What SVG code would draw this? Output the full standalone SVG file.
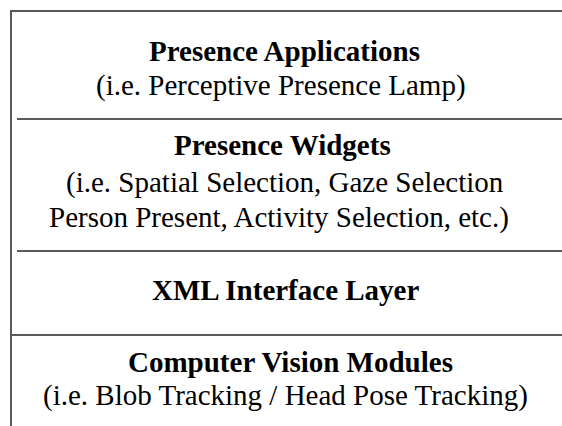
<svg xmlns="http://www.w3.org/2000/svg" width="562" height="426" viewBox="0 0 562 426">
<style>
.ln{stroke:#5a5a5a;stroke-width:2;fill:none}
.t{font-family:"Liberation Serif","Times New Roman",serif;font-size:29px;fill:#000}
.b{font-weight:bold}
</style>
<rect width="562" height="426" fill="#fff"/>
<g id="frame">
<line class="ln" x1="10" y1="11" x2="562" y2="11"/>
<line class="ln" x1="11" y1="10" x2="11" y2="426"/>
<line class="ln" x1="17" y1="119" x2="562" y2="119"/>
<line class="ln" x1="17" y1="251" x2="562" y2="251"/>
<line class="ln" x1="10" y1="335" x2="562" y2="335"/>
</g>
<g id="presence-applications">
<text class="t b" x="149" y="61">Presence Applications</text>
<text class="t" x="96" y="95">(i.e. Perceptive Presence Lamp)</text>
</g>
<g id="presence-widgets">
<text class="t b" x="174" y="155">Presence Widgets</text>
<text class="t" x="66" y="192">(i.e. Spatial Selection, Gaze Selection</text>
<text class="t" x="49" y="227">Person Present, Activity Selection, etc.)</text>
</g>
<g id="xml-interface-layer">
<text class="t b" x="152" y="300">XML Interface Layer</text>
</g>
<g id="computer-vision-modules">
<text class="t b" x="128" y="372">Computer Vision Modules</text>
<text class="t" x="43" y="405">(i.e. Blob Tracking / Head Pose Tracking)</text>
</g>
</svg>
